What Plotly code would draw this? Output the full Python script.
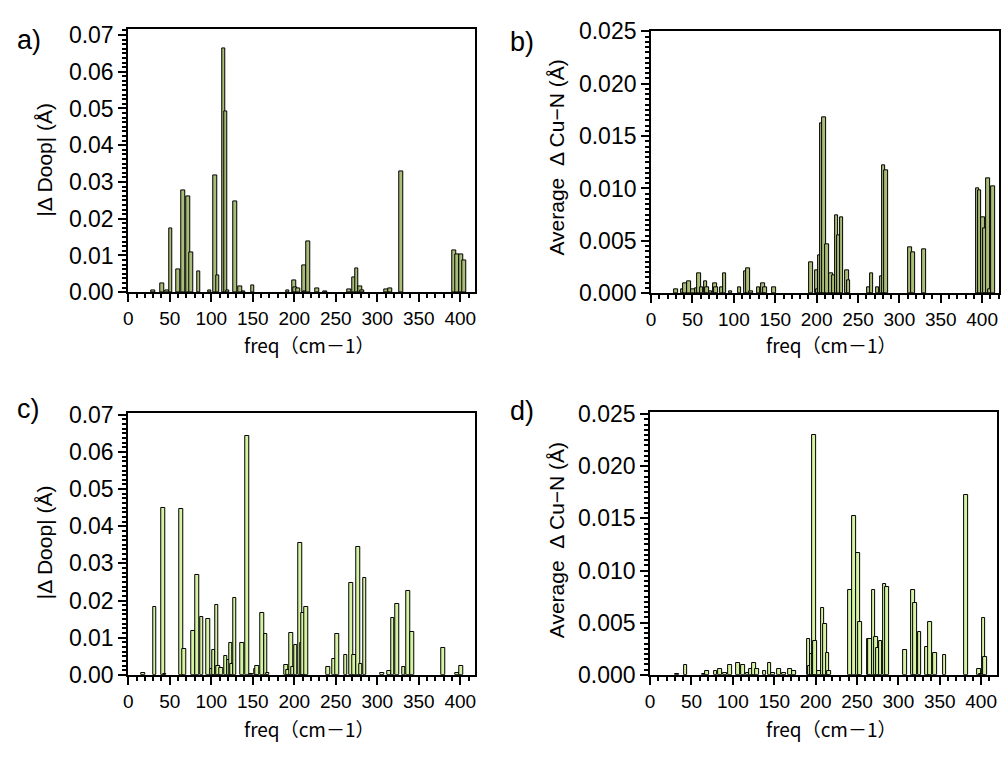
import plotly.graph_objects as go

# ---------------- data ----------------
freq_a = [30, 41, 47, 51, 60, 66, 72, 76, 85, 98, 105, 108, 115, 117.5, 120, 129, 135, 139,
          150, 192, 200, 201, 205, 212, 213.5, 217, 228, 237, 266, 272, 275.5, 279.5, 282,
          311, 316, 329, 393, 396.5, 401, 405]
doop_a = [0.0005, 0.0024, 0.0004, 0.0174, 0.0063, 0.0278, 0.0260, 0.0108, 0.0056, 0.0005,
          0.0319, 0.0046, 0.0663, 0.0491, 0.0005, 0.0247, 0.0015, 0.0003, 0.0019, 0.0005,
          0.0033, 0.0013, 0.0009, 0.0074, 0.0003, 0.0138, 0.0011, 0.0003, 0.0008, 0.0041,
          0.0066, 0.0015, 0.0006, 0.0007, 0.0011, 0.0328, 0.0114, 0.0103, 0.0104, 0.0087]

freq_b = [30, 38, 41, 46, 51, 55, 58, 61, 66, 68, 72, 77, 78.5, 85, 89, 96, 107, 114, 117,
          121, 130, 135, 137.5, 149, 193, 200, 201, 204.5, 206.5, 209, 213, 217.5, 220.5,
          224, 227, 230, 237, 238.5, 263.5, 266.5, 273.5, 279, 281, 284, 313, 316.5, 330,
          394.5, 397, 401.5, 403.5, 407, 409, 413]
cun_b = [0.0004, 0.0004, 0.0009, 0.0011, 0.0004, 0.0005, 0.0019, 0.0006, 0.0011, 0.0006,
         0.0002, 0.0009, 0.0006, 0.0006, 0.0019, 0.0002, 0.0006, 0.0021, 0.0024, 0.0002,
         0.0006, 0.0009, 0.0006, 0.0006, 0.0029, 0.0022, 0.0004, 0.0036, 0.0162, 0.0168,
         0.0047, 0.0019, 0.0017, 0.0074, 0.0055, 0.0072, 0.0022, 0.0012, 0.0006, 0.0019,
         0.0006, 0.0016, 0.0122, 0.0117, 0.0044, 0.0039, 0.0042, 0.0100, 0.0098, 0.0072,
         0.0062, 0.0110, 0.0004, 0.0102]

freq_c = [18, 32, 42, 44, 64, 67.5, 78, 83.5, 88.5, 96, 101, 103, 106.5, 108.5, 112,
          117.5, 121, 123.5, 124.5, 128.5, 137.5, 143, 148, 154, 155.5, 161.5, 165.5, 168,
          190.5, 192.5, 196.5, 198, 202, 207.5, 209.5, 211, 214.5, 241, 248, 252, 262,
          268.5, 272, 277.5, 280, 285, 306, 314.5, 318.5, 324, 332, 337, 342, 379.5, 396.5,
          401.5]
doop_c = [0.0004, 0.0183, 0.0448, 0.0003, 0.0446, 0.0070, 0.0117, 0.0268, 0.0157, 0.0150,
          0.0015, 0.0066, 0.0189, 0.0023, 0.0019, 0.0051, 0.0040, 0.0086, 0.0030, 0.0207,
          0.0086, 0.0644, 0.0003, 0.0017, 0.0025, 0.0167, 0.0109, 0.0004, 0.0027, 0.0013,
          0.0113, 0.0020, 0.0079, 0.0356, 0.0086, 0.0167, 0.0183, 0.0021, 0.0043, 0.0111,
          0.0053, 0.0248, 0.0053, 0.0343, 0.0030, 0.0261, 0.0004, 0.0011, 0.0153, 0.0191,
          0.0021, 0.0227, 0.0114, 0.0073, 0.0004, 0.0023]

freq_d = [32.5, 43, 64.5, 68.5, 79, 84.5, 90.5, 96.5, 106, 112, 118, 122, 125.5, 129.5,
          138.5, 144.5, 149, 156, 162, 169.5, 174, 191.5, 193.5, 196, 198, 199.5, 204,
          208.5, 211.5, 214.5, 216, 242, 246.5, 251.5, 253.5, 264, 266, 270, 273, 275,
          278.5, 283.5, 286.5, 308, 317.5, 320, 325.5, 334.5, 338.5, 344, 356, 381.5,
          397.5, 399.5, 403, 404.5]
cun_d = [0.0001, 0.0009, 0.0001, 0.0004, 0.0004, 0.0006, 0.0002, 0.0009, 0.0011, 0.0009,
         0.0002, 0.0006, 0.0011, 0.0006, 0.0004, 0.0011, 0.0002, 0.0006, 0.0002, 0.0006,
         0.0004, 0.0034, 0.0008, 0.0020, 0.0230, 0.0032, 0.0004, 0.0064, 0.0049, 0.0021,
         0.0004, 0.0081, 0.0152, 0.0117, 0.0051, 0.0034, 0.0034, 0.0081, 0.0036, 0.0026,
         0.0032, 0.0087, 0.0084, 0.0024, 0.0081, 0.0069, 0.0041, 0.0027, 0.0051, 0.0021,
         0.0019, 0.0172, 0.0006, 0.0001, 0.0054, 0.0017]

x_title = "freq（cm－1）"
ytitle_doop = "|Δ Doop| (Å)"
ytitle_cun = "Average  Δ Cu−N (Å)"
panel_labels = ["a)", "b)", "c)", "d)"]

# ---------------- figure ----------------
W, H = 1003, 768
fig = go.Figure()

dark_fill = "#aabd78"
light_fill = "#d5f3a2"

panels = [
    (freq_a, doop_a, dark_fill, "x", "y"),
    (freq_b, cun_b, dark_fill, "x2", "y2"),
    (freq_c, doop_c, light_fill, "x3", "y3"),
    (freq_d, cun_d, light_fill, "x4", "y4"),
]
for fx, fy, col, xa, ya in panels:
    fig.add_trace(go.Bar(x=fx, y=fy, width=4.4, marker=dict(color=col, line=dict(color="black", width=1)),
                         xaxis=xa, yaxis=ya, showlegend=False, hoverinfo="skip"))

def px_dom(a, b, total):
    return [a / total, b / total]

def ydom(top, bottom):
    return [1 - bottom / H, 1 - top / H]

tickfont_y = dict(family="Liberation Sans, Arial, sans-serif", size=23, color="black")
tickfont_x = dict(family="Liberation Sans Narrow, Arial Narrow, Liberation Sans, sans-serif", size=19, color="black")

def xaxis(dom, rng, anchor):
    return dict(domain=dom, range=rng, anchor=anchor, showline=True, linecolor="black", linewidth=2,
                mirror=True, ticks="outside", ticklen=8, tickwidth=2, tickcolor="black",
                tick0=0, dtick=50, showgrid=False, zeroline=False, tickfont=tickfont_x,
                minor=dict(ticks="outside", ticklen=4, tickwidth=1.5, dtick=10, tick0=0, tickcolor="black"))

def yaxis(dom, rng, anchor, dt, mdt, fmt):
    return dict(domain=dom, range=rng, anchor=anchor, showline=True, linecolor="black", linewidth=2,
                mirror=True, ticks="outside", ticklen=8, tickwidth=2, tickcolor="black",
                tick0=0, dtick=dt, tickformat=fmt, showgrid=False, zeroline=False, tickfont=tickfont_y,
                minor=dict(ticks="outside", ticklen=4, tickwidth=1.5, dtick=mdt, tick0=0, tickcolor="black"))

fig.update_layout(
    width=W, height=H, margin=dict(l=0, r=0, t=0, b=0),
    paper_bgcolor="white", plot_bgcolor="white", barmode="overlay", bargap=0,
    xaxis=xaxis(px_dom(124, 473, W), [0, 418], "y"),
    yaxis=yaxis(ydom(17, 289), [0, 0.0715], "x", 0.01, 0.00125, ".2f"),
    xaxis2=xaxis(px_dom(650, 1000, W), [0, 420.4], "y2"),
    yaxis2=yaxis(ydom(19, 290), [0, 0.025], "x2", 0.005, 0.0005, ".3f"),
    xaxis3=xaxis(px_dom(124, 473, W), [0, 418], "y3"),
    yaxis3=yaxis(ydom(414, 685), [0, 0.0705], "x3", 0.01, 0.00125, ".2f"),
    xaxis4=xaxis(px_dom(649, 998, W), [0, 419.2], "y4"),
    yaxis4=yaxis(ydom(413, 685), [0, 0.0252], "x4", 0.005, 0.0005, ".3f"),
)

title_font_x = dict(family="Noto Sans CJK JP, sans-serif", size=19, color="black")
title_font_y = dict(family="Liberation Sans, Arial, sans-serif", size=21, color="black")
label_font = dict(family="Liberation Sans, Arial, sans-serif", size=27, color="black")

ann = []
# x titles
for cx, cy in [(306, 343), (831, 343), (306, 741), (831, 741)]:
    ann.append(dict(text=x_title, x=cx / W, y=1 - cy / H, xref="paper", yref="paper",
                    showarrow=False, font=title_font_x, xanchor="center", yanchor="middle"))
# y titles
for txt, cx, cy in [(ytitle_doop, 40, 152), (ytitle_cun, 555, 150), (ytitle_doop, 40, 548), (ytitle_cun, 555, 546)]:
    ann.append(dict(text=txt, x=cx / W, y=1 - cy / H, xref="paper", yref="paper", textangle=-90,
                    showarrow=False, font=title_font_y, xanchor="center", yanchor="middle"))
# panel labels
for lab, cx, cy in zip(panel_labels, [24, 520, 24, 520], [28, 30, 410, 412]):
    ann.append(dict(text=lab, x=cx / W, y=1 - cy / H, xref="paper", yref="paper",
                    showarrow=False, font=label_font, xanchor="center", yanchor="middle"))
fig.update_layout(annotations=ann)

fig.write_html("out.html", config={"displayModeBar": False},
               post_script="document.body.style.margin='0px';")
